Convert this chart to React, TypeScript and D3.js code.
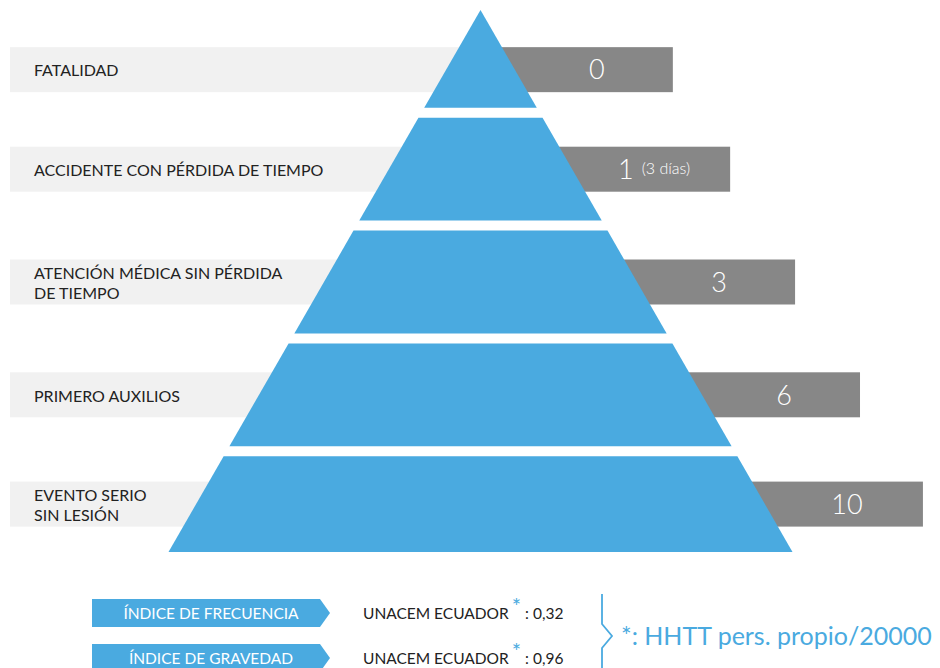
import React from "react";
import * as d3 from "d3";

const categories = [
  "FATALIDAD",
  "ACCIDENTE CON PÉRDIDA DE TIEMPO",
  "ATENCIÓN MÉDICA SIN PÉRDIDA|DE TIEMPO",
  "PRIMERO AUXILIOS",
  "EVENTO SERIO|SIN LESIÓN",
];
const values = ["0", "1", "3", "6", "10"];
const valueNotes = ["", "(3 días)", "", "", ""];
const indexLabels = ["ÍNDICE DE FRECUENCIA", "ÍNDICE DE GRAVEDAD"];
const indexValues = ["0,32", "0,96"];
const companyName = "UNACEM ECUADOR";
const footnote = "*: HHTT pers. propio/20000";

const W = 940;
const H = 668;
const BLUE = "#4AAAE0";
const DARK = "#878787";
const LIGHT = "#F1F1F1";
const FONT = "Lato, 'Open Sans', sans-serif";

export default function App() {
  const apexY = 10;
  const baseY = 552;
  const cx = 480.5;
  const baseHalf = 312;

  const y = d3
    .scaleBand<number>()
    .domain(d3.range(categories.length))
    .range([5, 559])
    .paddingInner(0.0887)
    .paddingOuter(0);
  const bw = y.bandwidth();
  const half = d3.scaleLinear().domain([apexY, baseY]).range([0, baseHalf]);

  const line = d3.line<[number, number]>();

  const layerTop = (i: number) => Math.max(apexY, y(i) as number);
  const layerBot = (i: number) => Math.min(baseY, (y(i) as number) + bw);
  const rowCenter = (i: number) =>
    i === 0
      ? layerTop(i) + (layerBot(i) - layerTop(i)) * 0.61
      : (layerTop(i) + layerBot(i)) / 2;
  const barH = 45;
  const barEnd = (i: number) => cx + half(rowCenter(i)) + 158;

  const tagY = d3
    .scaleBand<number>()
    .domain(d3.range(indexLabels.length))
    .range([599, 672])
    .paddingInner(17 / 45)
    .paddingOuter(0);
  const tagH = tagY.bandwidth();
  const tagX0 = 92;
  const tagX1 = 320;
  const tagTip = 10;

  const bracketX = 602;
  const bracketMid = 636;

  return (
    <div style={{ position: "absolute", left: 0, top: 0 }}>
      <svg width={W} height={H} style={{ display: "block", fontFamily: FONT }}>
        <rect width={W} height={H} fill="#fff" />
        {/* background bars */}
        {categories.map((c, i) => {
          const yc = rowCenter(i);
          return (
            <g key={"bar" + i}>
              <rect x={10} y={yc - barH / 2} width={cx - 10} height={barH} fill={LIGHT} />
              <rect x={cx} y={yc - barH / 2} width={barEnd(i) - cx} height={barH} fill={DARK} />
            </g>
          );
        })}
        {/* pyramid */}
        {categories.map((c, i) => {
          const top = layerTop(i);
          const bot = layerBot(i);
          const pts: [number, number][] = [
            [cx - half(top), top],
            [cx + half(top), top],
            [cx + half(bot), bot],
            [cx - half(bot), bot],
          ];
          return <path key={"pyr" + i} d={line(pts) + "Z"} fill={BLUE} />;
        })}
        {/* labels */}
        {categories.map((c, i) => {
          const yc = rowCenter(i);
          const parts = c.split("|");
          const lh = 20;
          return (
            <text key={"lab" + i} x={34} fontSize={16} fill="#222">
              {parts.map((p, j) => (
                <tspan
                  key={j}
                  x={34}
                  y={yc + (j - (parts.length - 1) / 2) * lh}
                  dy="0.42em"
                >
                  {p}
                </tspan>
              ))}
            </text>
          );
        })}
        {/* values */}
        {values.map((v, i) => {
          const yc = rowCenter(i);
          return (
            <text
              key={"val" + i}
              x={barEnd(i) - 76}
              y={yc}
              dy="0.36em"
              textAnchor="middle"
              fill="#fff"
              fontSize={27}
              fontWeight={300}
            >
              {v}
              {valueNotes[i] ? (
                <tspan fontSize={16} dx={8} dy={-5}>
                  {valueNotes[i]}
                </tspan>
              ) : null}
            </text>
          );
        })}
        {/* index tags */}
        {indexLabels.map((lab, i) => {
          const t = tagY(i) as number;
          const pts: [number, number][] = [
            [tagX0, t],
            [tagX1, t],
            [tagX1 + tagTip, t + tagH / 2],
            [tagX1, t + tagH],
            [tagX0, t + tagH],
          ];
          return (
            <g key={"tag" + i}>
              <path d={line(pts) + "Z"} fill={BLUE} />
              <text
                x={(tagX0 + tagX1) / 2 + 5}
                y={t + tagH / 2}
                dy="0.38em"
                textAnchor="middle"
                fill="#fff"
                fontSize={15.5}
              >
                {lab}
              </text>
              <text x={363} y={t + tagH / 2} dy="0.4em" fill="#222" fontSize={15.5}>
                {companyName}
                <tspan fill={BLUE} fontSize={22} dx={3} dy={-5}>
                  *
                </tspan>
                <tspan dx={4} dy={5}>
                  {": " + indexValues[i]}
                </tspan>
              </text>
            </g>
          );
        })}
        {/* bracket */}
        <path
          d={
            line([
              [bracketX, 594],
              [bracketX, bracketMid - 12],
              [bracketX + 10, bracketMid],
              [bracketX, bracketMid + 12],
              [bracketX, H + 2],
            ]) as string
          }
          fill="none"
          stroke={BLUE}
          strokeWidth={1.8}
        />
        <text x={621} y={bracketMid} dy="0.36em" fill={BLUE} fontSize={25}>
          {footnote}
        </text>
      </svg>
    </div>
  );
}
